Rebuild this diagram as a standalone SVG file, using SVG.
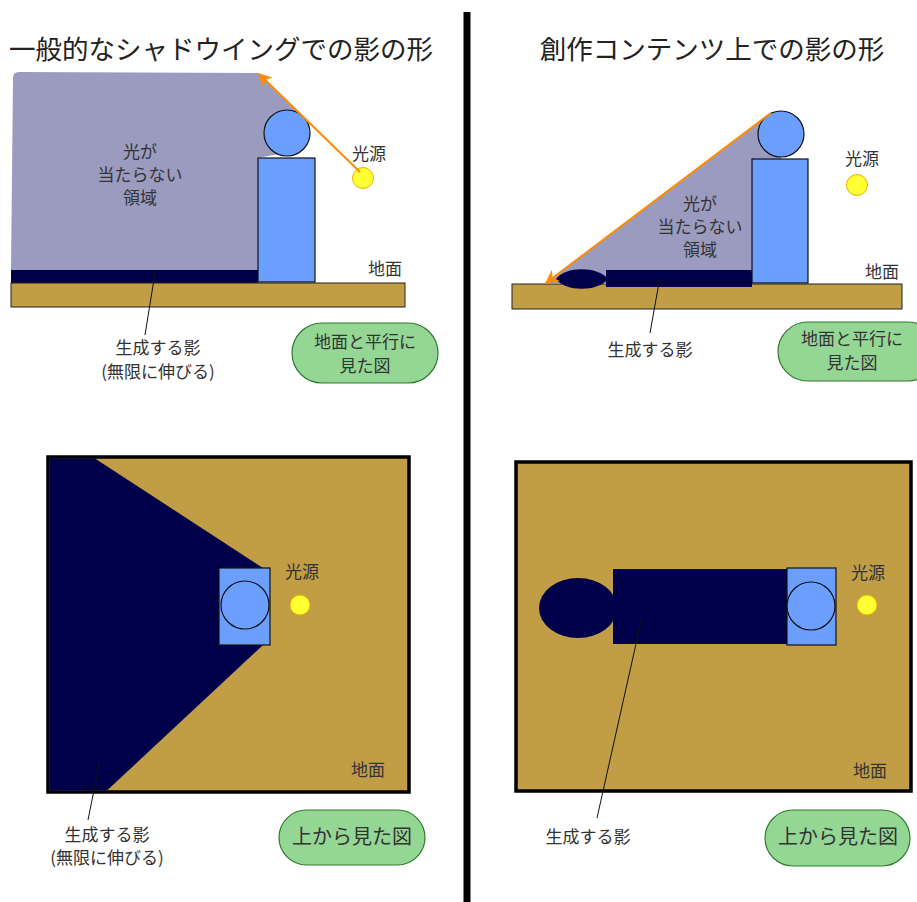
<svg xmlns="http://www.w3.org/2000/svg" width="917" height="902" viewBox="0 0 917 902">
<defs>
<style>
text{font-family:"Noto Sans CJK JP","Noto Sans",sans-serif;fill:#333;text-anchor:middle}
.t17{font-size:17px}
.title{font-size:26.5px;fill:#222}
.ground{fill:#c19d46;stroke:#222;stroke-width:1}
.frame{fill:#c19d46;stroke:#000;stroke-width:3.5}
.navy{fill:#00004a}
.purple{fill:#9b9bc0}
.body{fill:#6b9fff;stroke:#111;stroke-width:1.2}
.light{fill:#ffff33;stroke:#f0b000;stroke-width:1}
.leader{stroke:#111;stroke-width:1;fill:none}
.green{fill:#94d694;stroke:#2e7d2e;stroke-width:1.2}
.ray{stroke:#ff8c00;stroke-width:2;fill:none}
</style>
<marker id="ah" viewBox="0 0 10 10" refX="9" refY="5" markerWidth="7" markerHeight="7" orient="auto" markerUnits="strokeWidth">
<path d="M0,0 L10,5 L0,10 L3,5 Z" fill="#ff8c00"/>
</marker>
</defs>
<rect width="917" height="902" fill="#fff"/>
<line x1="467" y1="12" x2="467" y2="902" stroke="#000" stroke-width="7"/>

<text class="title" x="221" y="59">一般的なシャドウイングでの影の形</text>
<text class="title" x="712" y="59">創作コンテンツ上での影の形</text>

<!-- Top-left: side view -->
<g id="tl-shadow-region">
<path class="purple" d="M19,72 L258,73 L304,117 L300,150 L258,158 L258,271 L11,271 L13,78 Q13,72 19,72 Z"/>
<text class="t17" x="140" y="158">光が</text>
<text class="t17" x="140" y="181">当たらない</text>
<text class="t17" x="140" y="204">領域</text>
</g>
<g id="tl-shadow"><rect class="navy" x="11" y="270" width="247" height="14"/></g>
<g id="tl-ground"><rect class="ground" x="11" y="283" width="394" height="24"/><text class="t17" x="385" y="275">地面</text></g>
<g id="tl-person">
<rect class="body" x="258" y="158" width="57" height="124"/>
<circle class="body" cx="287" cy="133" r="23"/>
</g>
<g id="tl-light"><circle class="light" cx="363" cy="178" r="10.5"/><text class="t17" x="369" y="160">光源</text></g>
<g id="tl-label"><text class="t17" x="158" y="354">生成する影</text><text class="t17" x="158" y="378">(無限に伸びる)</text></g>
<g id="tl-view"><rect class="green" x="292" y="323" width="146" height="60" rx="30"/><text class="t17" x="365" y="348">地面と平行に</text><text class="t17" x="365" y="372">見た図</text></g>

<!-- Top-right: side view -->
<g id="tr-shadow-region">
<path class="purple" d="M772,112 L781,112 L781,159 L752,159 L752,283 L545,283 Z"/>
<text class="t17" x="700" y="210">光が</text>
<text class="t17" x="700" y="233">当たらない</text>
<text class="t17" x="700" y="256">領域</text>
</g>
<g id="tr-ground"><rect class="ground" x="512" y="284" width="390" height="25"/><text class="t17" x="882" y="278">地面</text></g>
<g id="tr-shadow">
<path class="navy" d="M556,279 C565,266 598,266 608,279 C598,292 565,292 556,279 Z"/>
<rect class="navy" x="606" y="270" width="146" height="17"/>
</g>
<g id="tr-person">
<rect class="body" x="752" y="159" width="56" height="124"/>
<circle class="body" cx="781" cy="134" r="23"/>
</g>
<g id="tr-light"><circle class="light" cx="857" cy="185" r="10.5"/><text class="t17" x="862" y="165">光源</text></g>
<g id="tr-label"><text class="t17" x="650" y="356">生成する影</text></g>
<g id="tr-view"><rect class="green" x="778" y="322" width="160" height="59" rx="30"/><text class="t17" x="852" y="345">地面と平行に</text><text class="t17" x="852" y="369">見た図</text></g>

<!-- Bottom-left: top view -->
<g id="bl-ground"><rect class="frame" x="48" y="457" width="361" height="335"/><text class="t17" x="368" y="776">地面</text></g>
<g id="bl-shadow"><path class="navy" d="M49.5,458.5 L95,458.5 L263,568 L263,645 L107,790.5 L49.5,790.5 Z"/></g>
<g id="bl-person">
<rect class="body" x="219" y="568" width="51" height="77" stroke-width="1"/>
<circle class="body" cx="245" cy="605" r="24" fill="none"/>
</g>
<g id="bl-light"><circle class="light" cx="300" cy="605" r="10"/><text class="t17" x="302" y="578">光源</text></g>
<g id="bl-label"><text class="t17" x="107" y="841">生成する影</text><text class="t17" x="107" y="864">(無限に伸びる)</text></g>
<g id="bl-view"><rect class="green" x="279" y="810" width="146" height="55" rx="27.5"/><text x="352" y="844" style="font-size:20px">上から見た図</text></g>

<!-- Bottom-right: top view -->
<g id="br-ground"><rect class="frame" x="516" y="462" width="395" height="329"/><text class="t17" x="870" y="777">地面</text></g>
<g id="br-shadow">
<ellipse class="navy" cx="578" cy="608" rx="39" ry="30"/>
<rect class="navy" x="613" y="569" width="174" height="75"/>
</g>
<g id="br-person">
<rect class="body" x="787" y="568" width="49" height="77" stroke-width="1"/>
<circle class="body" cx="811" cy="606" r="24"/>
</g>
<g id="br-light"><circle class="light" cx="867" cy="605" r="10"/><text class="t17" x="868" y="579">光源</text></g>
<g id="br-label"><text class="t17" x="588" y="843">生成する影</text></g>
<g id="br-view"><rect class="green" x="765" y="810" width="145" height="56" rx="28"/><text x="838" y="844" style="font-size:20px">上から見た図</text></g>

<g id="connectors">
<line class="ray" x1="360" y1="172" x2="259" y2="74" marker-end="url(#ah)"/>
<line class="ray" x1="771" y1="113" x2="546" y2="283" marker-end="url(#ah)"/>
<line class="leader" x1="155" y1="273" x2="145" y2="335"/>
<line class="leader" x1="660" y1="277" x2="650" y2="333"/>
<line class="leader" x1="100" y1="760" x2="88" y2="820"/>
<line class="leader" x1="642" y1="617" x2="597" y2="818"/>
</g>
</svg>
